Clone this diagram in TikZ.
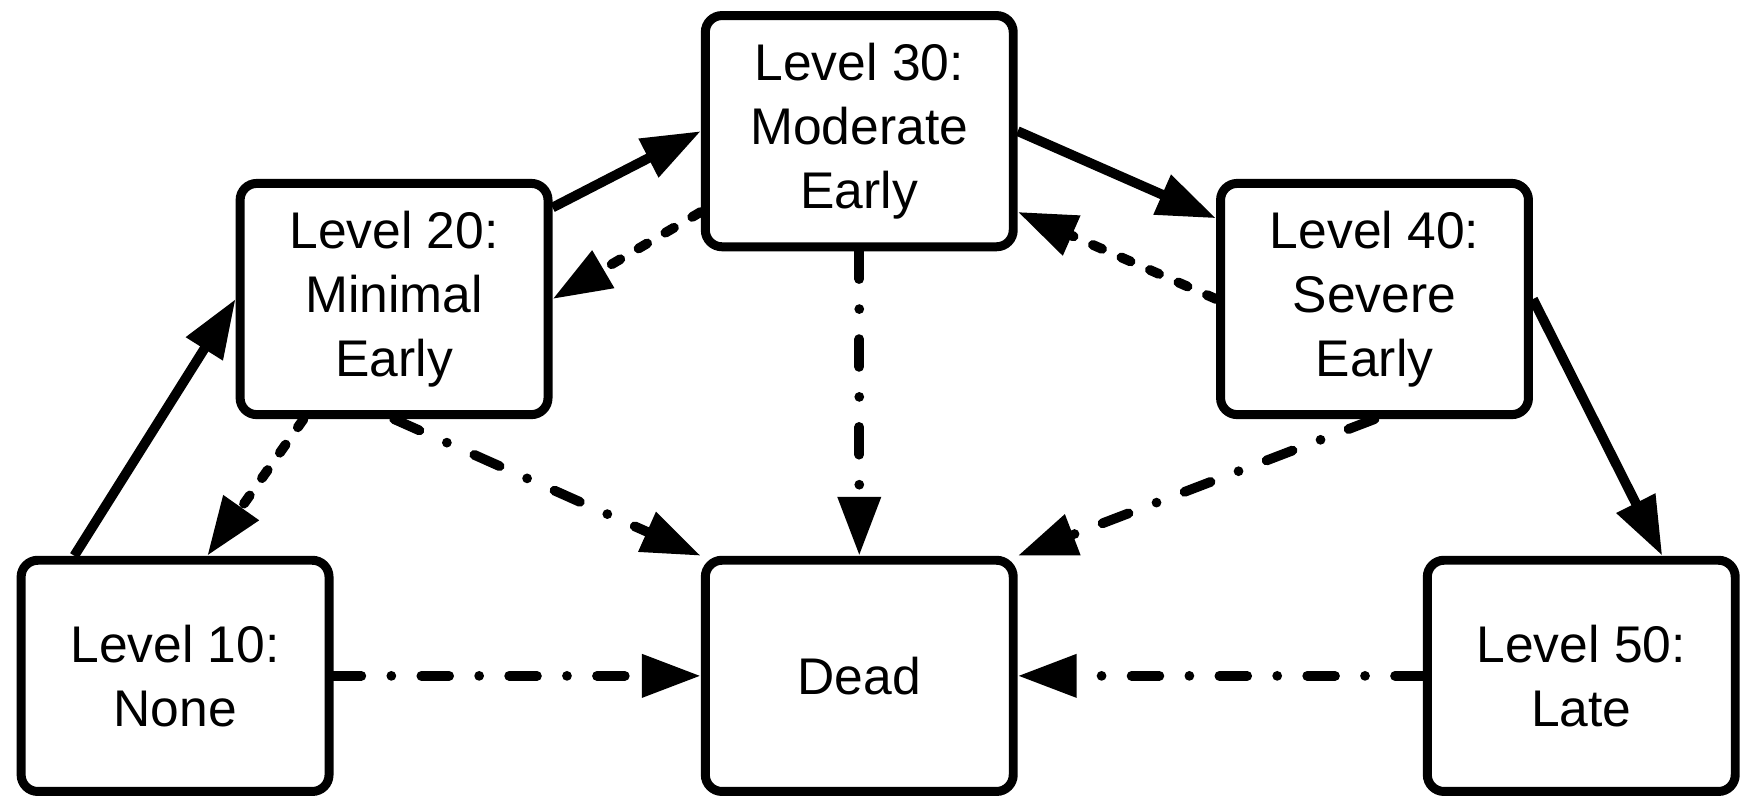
\documentclass[tikz,border=0pt]{standalone}
\usepackage{fontspec}
\setmainfont{Liberation Sans}
\usetikzlibrary{arrows.meta}

\tikzset{
	etat/.style={draw, line width=2.3pt, rounded corners=0.15cm, minimum width=2.77cm, minimum height=2.08cm, inner sep=0pt, align=center, font=\fontsize{13.2}{16.4}\selectfont},
	trans/.style={line width=2.5pt, -{Triangle[length=5.3mm,width=3.7mm]}},
	retour/.style={trans, line cap=round, dash pattern=on 0.09cm off 0.19cm},
	deces/.style={trans, line cap=round, dash pattern=on 0.25cm off 0.27cm on 0cm off 0.27cm},
}

\begin{document}
\begin{tikzpicture}

	\useasboundingbox (0,0) rectangle (15.68,-7.19);

	\def\yh{-1.18}
	\def\ym{-2.69}
	\def\yb{-6.08}

	% Les etats
	\node[etat] (l10) at (1.575,\yb) {Level 10:\\None};
	\node[etat] (l20) at (3.545,\ym) {Level 20:\\Minimal\\Early};
	\node[etat] (l30) at (7.73,\yh) {Level 30:\\Moderate\\Early};
	\node[etat] (l40) at (12.365,\ym) {Level 40:\\Severe\\Early};
	\node[etat] (l50) at (14.225,\yb) {Level 50:\\Late};
	\node[etat] (dead) at (7.73,\yb) {Dead};

	% Progression
	\draw[trans] (l10.130) -- (l20.west);
	\draw[trans] (l20.30) -- (l30.west);
	\draw[trans] (l30.east) -- (l40.153);
	\draw[trans] (l40.east) -- (l50.56);

	% Retour en arriere
	\draw[retour] (l30.207) -- (l20.east);
	\draw[retour] (l40.west) -- (l30.333);
	\draw[retour] (l20.233) -- (l10.75);

	% Vers le deces
	\draw[deces] (l10.east) -- (dead.west);
	\draw[deces] (l20.south) -- (dead.north west);
	\draw[deces] (l30.south) -- (dead.north);
	\draw[deces] (l40.south) -- (dead.north east);
	\draw[deces] (l50.west) -- (dead.east);

\end{tikzpicture}
\end{document}
